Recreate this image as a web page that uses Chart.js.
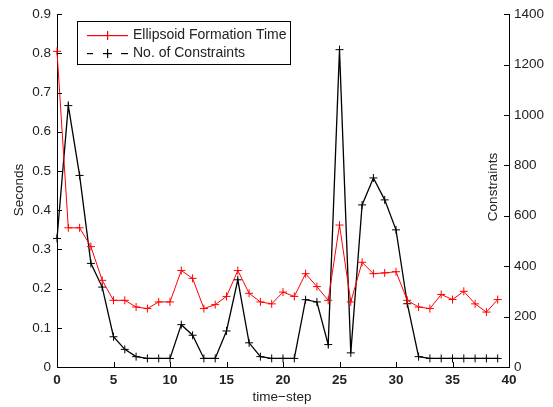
<!DOCTYPE html>
<html>
<head>
<meta charset="utf-8">
<script src="https://cdn.jsdelivr.net/npm/chart.js@4/dist/chart.umd.min.js"></script>
<style>
  html, body { margin: 0; padding: 0; background: #fff; }
  #wrap { width: 553px; height: 407px; }
</style>
</head>
<body>
<div id="wrap"><canvas id="chart" width="553" height="407"></canvas></div>
<script>
// data
const timeSteps = [];
for (let i = 0; i < 40; i++) timeSteps.push(i);

const ellipsoidSeconds = [0.805, 0.355, 0.355, 0.307, 0.221, 0.170, 0.170, 0.153, 0.149, 0.166,
                          0.166, 0.246, 0.226, 0.149, 0.159, 0.180, 0.246, 0.188, 0.166, 0.161,
                          0.191, 0.180, 0.238, 0.205, 0.170, 0.362, 0.166, 0.267, 0.238, 0.240,
                          0.243, 0.170, 0.153, 0.149, 0.185, 0.172, 0.193, 0.161, 0.140, 0.172];

const constraintCount = [510, 1037, 760, 411, 317, 120, 70, 41, 34, 34,
                         34, 168, 126, 34, 34, 143, 346, 96, 41, 34,
                         34, 34, 267, 258, 89, 1259, 56, 643, 750, 663,
                         544, 251, 41, 34, 34, 34, 34, 34, 34, 34];

const xTicks = [0, 5, 10, 15, 20, 25, 30, 35, 40];
const secondsTicks = [0, 0.1, 0.2, 0.3, 0.4, 0.5, 0.6, 0.7, 0.8, 0.9];
const constraintTicks = [0, 200, 400, 600, 800, 1000, 1200, 1400];

const seriesNames = ['Ellipsoid Formation Time', 'No. of Constraints'];
const seriesColors = ['#ff0000', '#000000'];

const FONT = 'Liberation Sans, Arial, sans-serif';
const INK = '#222';

// inward tick marks, axis titles and the matlab style legend
const decorations = {
    afterDraw: function(chart) {
        const ctx = chart.ctx;
        const area = chart.chartArea;
        const sx = chart.scales.x, sl = chart.scales.y, sr = chart.scales.y1;
        ctx.save();
        ctx.strokeStyle = '#000';
        ctx.lineWidth = 1;
        ctx.setLineDash([]);
        ctx.beginPath();
        xTicks.forEach(v => {
            const px = Math.round(sx.getPixelForValue(v)) + 0.5;
            ctx.moveTo(px, area.bottom);
            ctx.lineTo(px, area.bottom - 5);
        });
        secondsTicks.forEach(v => {
            const py = Math.round(sl.getPixelForValue(v)) + 0.5;
            ctx.moveTo(area.left, py);
            ctx.lineTo(area.left + 5, py);
        });
        constraintTicks.forEach(v => {
            const py = Math.round(sr.getPixelForValue(v)) + 0.5;
            ctx.moveTo(area.right, py);
            ctx.lineTo(area.right - 5, py);
        });
        ctx.stroke();

        // axis titles
        ctx.fillStyle = INK;
        ctx.font = '13.5px ' + FONT;
        ctx.textAlign = 'center';
        ctx.textBaseline = 'middle';
        ctx.fillText('time\u2212step', 282, 397);
        ctx.save();
        ctx.translate(19, 190);
        ctx.rotate(-Math.PI / 2);
        ctx.fillText('Seconds', 0, 0);
        ctx.restore();
        ctx.save();
        ctx.translate(493, 187);
        ctx.rotate(-Math.PI / 2);
        ctx.fillText('Constraints', 0, 0);
        ctx.restore();

        // legend box
        const bx = 77.5, by = 21.5, bw = 213, bh = 43;
        ctx.fillStyle = '#fff';
        ctx.fillRect(bx, by, bw, bh);
        ctx.strokeStyle = '#000';
        ctx.strokeRect(bx, by, bw, bh);

        // red entry: solid line with a plus
        ctx.fillStyle = seriesColors[0];
        ctx.fillRect(87, 35, 41, 1.2);
        ctx.fillRect(107, 31, 1.2, 9);

        // black entry: dashed line with a plus
        ctx.fillStyle = seriesColors[1];
        ctx.fillRect(87, 53, 6, 1.2);
        ctx.fillRect(121, 53, 7, 1.2);
        ctx.fillRect(103, 53, 9, 1.2);
        ctx.fillRect(107, 49, 1.2, 9);

        ctx.fillStyle = INK;
        ctx.textAlign = 'left';
        ctx.font = '14px ' + FONT;
        ctx.fillText(seriesNames[0], 133, 35.5);
        ctx.fillText(seriesNames[1], 133, 53.5);
        ctx.restore();
    }
};

const redPoints = timeSteps.map((t, i) => ({x: t, y: ellipsoidSeconds[i]}));
const blackPoints = timeSteps.map((t, i) => ({x: t, y: constraintCount[i]}));

new Chart(document.getElementById('chart'), {
    type: 'line',
    plugins: [decorations],
    data: {
        datasets: [{
            label: seriesNames[0],
            data: redPoints,
            yAxisID: 'y',
            borderColor: seriesColors[0],
            borderWidth: 1,
            pointStyle: 'cross',
            pointRadius: 4,
            pointBorderColor: seriesColors[0],
            pointBorderWidth: 1,
            tension: 0,
            clip: false
        }, {
            label: seriesNames[1],
            data: blackPoints,
            yAxisID: 'y1',
            borderColor: seriesColors[1],
            borderWidth: 1.3,
            pointStyle: 'cross',
            pointRadius: 4,
            pointBorderColor: seriesColors[1],
            pointBorderWidth: 1,
            tension: 0,
            clip: false
        }]
    },
    options: {
        responsive: false,
        animation: false,
        layout: { padding: { top: 12, left: 0, right: 0, bottom: 0 } },
        plugins: {
            legend: { display: false },
            tooltip: { enabled: false }
        },
        scales: {
            x: {
                type: 'linear',
                min: 0, max: 40,
                afterFit: function(s) { s.height = 40; },
                afterBuildTicks: function(s) { s.ticks = xTicks.map(v => ({value: v})); },
                grid: { drawOnChartArea: false, drawTicks: false },
                border: { color: '#000', width: 1 },
                ticks: { color: INK, padding: 5, font: { family: FONT, size: 13.5, weight: 'bold' } }
            },
            y: {
                position: 'left',
                min: 0, max: 0.9,
                afterFit: function(s) { s.width = 57; },
                afterBuildTicks: function(s) { s.ticks = secondsTicks.map(v => ({value: v})); },
                grid: { drawOnChartArea: false, drawTicks: false },
                border: { color: '#000', width: 1 },
                ticks: {
                    color: INK, padding: 6,
                    font: { family: FONT, size: 13.5 },
                    callback: function(v) { return v === 0 ? '0' : v.toFixed(1); }
                }
            },
            y1: {
                position: 'right',
                min: 0, max: 1400,
                afterFit: function(s) { s.width = 44; },
                afterBuildTicks: function(s) { s.ticks = constraintTicks.map(v => ({value: v})); },
                grid: { drawOnChartArea: false, drawTicks: false },
                border: { color: '#000', width: 1 },
                ticks: {
                    color: INK, padding: 5,
                    font: { family: FONT, size: 13.5 },
                    callback: function(v) { return String(v); }
                }
            }
        }
    }
});
</script>
</body>
</html>
